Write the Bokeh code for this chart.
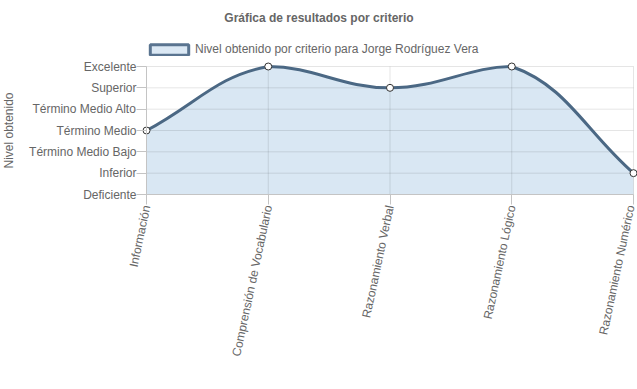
import math
import numpy as np
from bokeh.plotting import figure
from bokeh.models import (FixedTicker, Range1d, Legend, LegendItem, ColumnDataSource, Label)
from bokeh.embed import file_html
from bokeh.resources import INLINE

# ---- data ----
categories = ["Información", "Comprensión de Vocabulario", "Razonamiento Verbal",
              "Razonamiento Lógico", "Razonamiento Numérico"]
level_labels = ["Deficiente", "Inferior", "Término Medio Bajo", "Término Medio",
                "Término Medio Alto", "Superior", "Excelente"]
values = [3, 6, 5, 6, 1]
series_name = "Nivel obtenido por criterio para Jorge Rodríguez Vera"
chart_title = "Gráfica de resultados por criterio"

LINE = "#4b6884"
FILL = "#d9e7f3"
GRID = "#000000"
AXIS = "#c4c4c4"
TXT = "#666666"
FONT = "Liberation Sans"

xs = list(range(len(categories)))
levels = list(range(len(level_labels)))
ymax = levels[-1]
xmax = xs[-1]

# ---- Chart.js-like spline control points (tension 0.4), computed in pixel-ish space ----
SX, SY = 121.75, 21.333
tension = 0.4
pts = [(x * SX, v * SY) for x, v in zip(xs, values)]
ctrl_prev, ctrl_next = [], []
n = len(pts)
for i in range(n):
    prev = pts[i - 1] if i > 0 else pts[i]
    cur = pts[i]
    nxt = pts[i + 1] if i < n - 1 else pts[i]
    d01 = math.hypot(cur[0] - prev[0], cur[1] - prev[1])
    d12 = math.hypot(nxt[0] - cur[0], nxt[1] - cur[1])
    tot = d01 + d12
    s01 = d01 / tot if tot else 0
    s12 = d12 / tot if tot else 0
    fa, fb = tension * s01, tension * s12
    cp = (cur[0] - fa * (nxt[0] - prev[0]), cur[1] - fa * (nxt[1] - prev[1]))
    cn = (cur[0] + fb * (nxt[0] - prev[0]), cur[1] + fb * (nxt[1] - prev[1]))
    def cap(c):
        return (min(max(c[0] / SX, 0), xmax), min(max(c[1] / SY, 0), ymax))
    ctrl_prev.append(cap(cp))
    ctrl_next.append(cap(cn))

seg = dict(x0=[], y0=[], x1=[], y1=[], cx0=[], cy0=[], cx1=[], cy1=[])
fx, fy = [], []
for i in range(n - 1):
    x0, y0 = xs[i], values[i]
    x1, y1 = xs[i + 1], values[i + 1]
    c0 = ctrl_next[i]
    c1 = ctrl_prev[i + 1]
    seg["x0"].append(x0); seg["y0"].append(y0)
    seg["x1"].append(x1); seg["y1"].append(y1)
    seg["cx0"].append(c0[0]); seg["cy0"].append(c0[1])
    seg["cx1"].append(c1[0]); seg["cy1"].append(c1[1])
    t = np.linspace(0, 1, 40)
    bx = (1 - t) ** 3 * x0 + 3 * (1 - t) ** 2 * t * c0[0] + 3 * (1 - t) * t ** 2 * c1[0] + t ** 3 * x1
    by = (1 - t) ** 3 * y0 + 3 * (1 - t) ** 2 * t * c0[1] + 3 * (1 - t) * t ** 2 * c1[1] + t ** 3 * y1
    fx.extend(bx.tolist()); fy.extend(by.tolist())

# ---- figure: the plot frame covers the whole canvas; axes are pinned at 0 ----
W, H = 637, 389
left_px, bottom_px = 146, 195      # pixel room left of / below the data area
x_start = -left_px / SX
x_end = x_start + W / SX
y_start = -bottom_px / SY
y_end = y_start + H / SY

p = figure(width=W, height=H, output_backend="svg", toolbar_location=None,
           x_range=Range1d(x_start, x_end), y_range=Range1d(y_start, y_end),
           min_border=0)
p.title = None
p.outline_line_color = None
p.background_fill_color = "white"
p.xgrid.visible = False
p.ygrid.visible = False

# fill area
p.varea(x=fx, y1=[0] * len(fx), y2=fy, fill_color=FILL, fill_alpha=1.0)

# grid lines (between first/last category and lowest/highest level)
p.segment(x0=xs, y0=[0] * len(xs), x1=xs, y1=[ymax] * len(xs),
          line_color=GRID, line_alpha=0.1, line_width=1)
p.segment(x0=[0] * len(levels), y0=levels, x1=[xmax] * len(levels), y1=levels,
          line_color=GRID, line_alpha=0.1, line_width=1)

# line + points
p.bezier(x0="x0", y0="y0", x1="x1", y1="y1", cx0="cx0", cy0="cy0", cx1="cx1", cy1="cy1",
         source=ColumnDataSource(seg), line_color=LINE, line_width=3)
p.scatter(xs, values, size=7, marker="circle", fill_color="white", line_color="#333333",
          line_width=1)

# axes
xa = p.xaxis[0]
xa.fixed_location = 0
xa.bounds = (0, xmax)
xa.ticker = FixedTicker(ticks=xs)
xa.major_label_overrides = {i: c for i, c in enumerate(categories)}
xa.major_label_orientation = math.radians(78)
xa.major_label_text_font = FONT
xa.major_label_text_font_size = "12px"
xa.major_label_text_color = TXT
xa.major_label_standoff = 1
xa.major_tick_out = 10
xa.major_tick_in = 0
xa.minor_tick_line_color = None
xa.major_tick_line_color = AXIS
xa.axis_line_color = AXIS

ya = p.yaxis[0]
ya.fixed_location = 0
ya.bounds = (0, ymax)
ya.ticker = FixedTicker(ticks=levels)
ya.major_label_overrides = {i: l for i, l in enumerate(level_labels)}
ya.major_label_text_font = FONT
ya.major_label_text_font_size = "12px"
ya.major_label_text_color = TXT
ya.major_label_standoff = 0
ya.major_tick_out = 10
ya.major_tick_in = 0
ya.minor_tick_line_color = None
ya.major_tick_line_color = AXIS
ya.axis_line_color = AXIS
ya.axis_label = "Nivel obtenido"
ya.axis_label_text_font = FONT
ya.axis_label_text_font_size = "12px"
ya.axis_label_text_font_style = "normal"
ya.axis_label_text_color = TXT
ya.axis_label_standoff = 10

# title
p.add_layout(Label(x=W / 2, y=H - 17, x_units="screen", y_units="screen", text=chart_title,
                   text_font=FONT, text_font_size="12px", text_font_style="bold",
                   text_color=TXT, text_align="center", text_baseline="middle"))

# legend (dummy quad for the swatch)
dummy = p.quad(left=[float("nan")], right=[float("nan")], top=[float("nan")], bottom=[float("nan")],
               fill_color="#dbe8f4", line_color="#5a7490", line_width=3)
legend = Legend(items=[LegendItem(label=series_name, renderers=[dummy])],
                location=(145, H - 56), orientation="horizontal",
                glyph_width=48, glyph_height=13, label_height=13, label_standoff=2,
                padding=0, margin=0, border_line_color=None, background_fill_alpha=0,
                label_text_font=FONT, label_text_font_size="12px", label_text_color=TXT)
p.add_layout(legend, "center")

open("out.html", "w").write(file_html(p, INLINE))
